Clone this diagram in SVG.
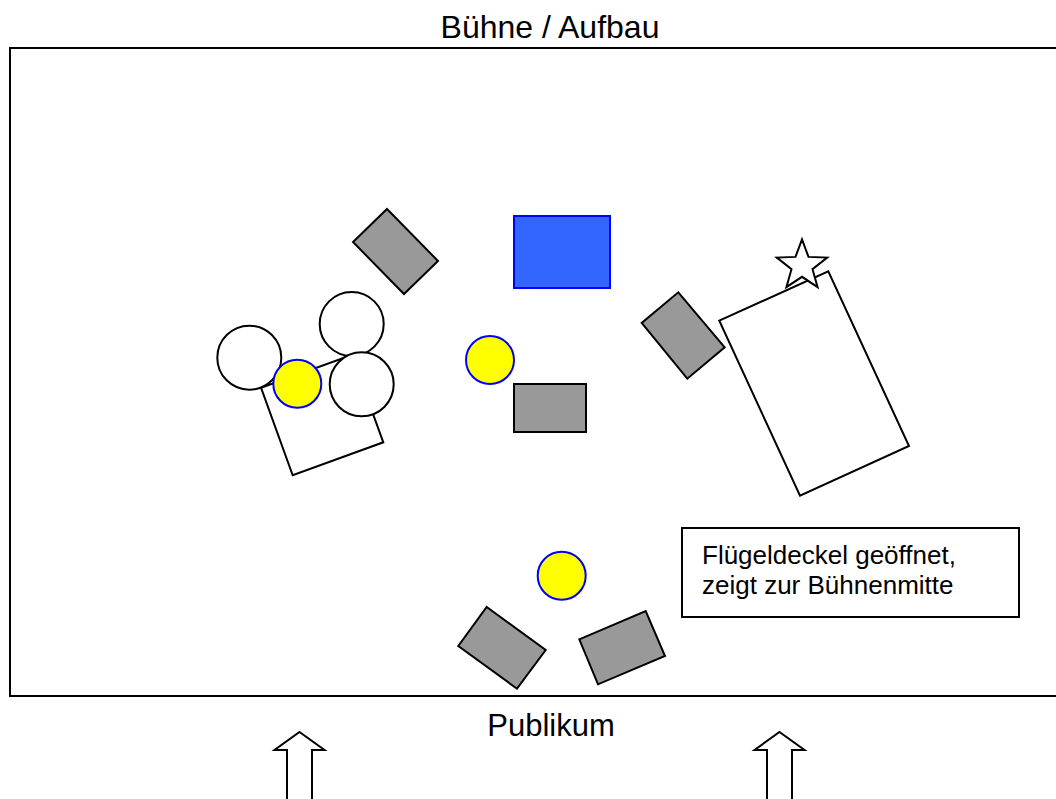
<svg xmlns="http://www.w3.org/2000/svg" width="1056" height="799" viewBox="0 0 1056 799">
<style>
  .ln { stroke: #000; stroke-width: 2; stroke-linejoin: miter; }
  .gray { fill: #999999; stroke: #000; stroke-width: 2; }
  .white { fill: #ffffff; stroke: #000; stroke-width: 2; }
  .yellow { fill: #ffff00; stroke: #0000ff; stroke-width: 2; }
  .blue { fill: #3366ff; stroke: #0000ff; stroke-width: 2; }
  .t { font-family: "Liberation Sans", Arial, sans-serif; fill: #000; }
</style>
<rect width="1056" height="799" fill="#ffffff"/>

<g id="stage">
  <rect x="10" y="48" width="1080" height="648" fill="none" class="ln"/>
  <text class="t" x="550" y="38" font-size="32" text-anchor="middle">Bühne / Aufbau</text>
  <text class="t" x="551" y="736" font-size="31" text-anchor="middle">Publikum</text>
</g>

<g id="piano-left">
  <polygon class="white" points="261,387.7 351.7,355 383.3,442.3 292.7,475.3"/>
</g>
<g id="drums">
  <circle class="white" cx="249.3" cy="357.7" r="32"/>
  <circle class="white" cx="351.7" cy="324" r="32"/>
  <circle class="white" cx="361.7" cy="384.3" r="32"/>
</g>
<g id="player-left">
  <circle class="yellow" cx="297.3" cy="383.7" r="24"/>
</g>

<g id="amp-topleft">
  <polygon class="gray" points="387,209 438,261 404,294 353,242"/>
</g>
<g id="blue-box">
  <rect class="blue" x="514" y="216" width="96" height="72"/>
</g>
<g id="player-center">
  <circle class="yellow" cx="490" cy="360" r="24"/>
</g>
<g id="amp-center">
  <rect class="gray" x="514" y="384" width="72" height="48"/>
</g>
<g id="amp-right">
  <polygon class="gray" points="678.3,292.3 724.7,347.3 687.3,378.7 641.7,323"/>
</g>

<g id="grand-piano">
  <polygon class="white" points="719.3,320.7 828.3,271.3 909,446 800,495.7"/>
</g>
<g id="star">
  <polygon class="white" points="802,239.3 808.5,256.9 827.2,257.6 812.5,269.2 817.6,287.2 802,276.8 786.4,287.2 791.5,269.2 776.8,257.6 795.5,256.9"/>
</g>

<g id="note">
  <rect class="white" x="682" y="528" width="337" height="89"/>
  <text class="t" x="702" y="564" font-size="26">Flügeldeckel geöffnet,</text>
  <text class="t" x="702" y="594" font-size="26">zeigt zur Bühnenmitte</text>
</g>

<g id="player-bottom">
  <circle class="yellow" cx="561.7" cy="575.7" r="24"/>
</g>
<g id="monitor-left">
  <polygon class="gray" points="486.7,607 545.7,650 517,688.7 458.3,646"/>
</g>
<g id="monitor-right">
  <polygon class="gray" points="579.3,639.3 645.7,611 665,656 598,684.3"/>
</g>

<g id="arrow-left">
  <polygon class="white" points="299.5,732 324.5,750 312,750 312,802 287,802 287,750 274.5,750"/>
</g>
<g id="arrow-right">
  <polygon class="white" points="779.5,732 804.5,750 792,750 792,802 767,802 767,750 754.5,750"/>
</g>
</svg>
